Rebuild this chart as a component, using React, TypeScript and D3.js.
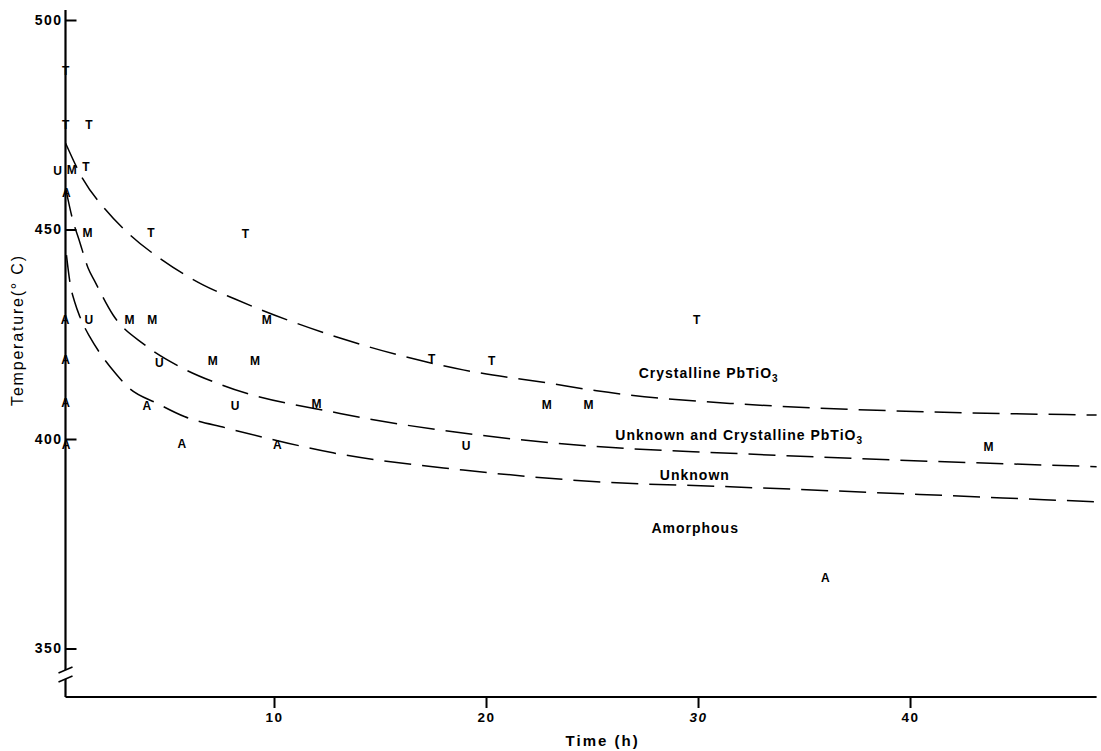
import React, { useEffect, useRef } from "react";
import * as d3 from "d3";

// phase observations, [time (h), temperature (°C)]
const tPoints = [
  [0.17, 488], [0.17, 475], [1.27, 475], [1.13, 465], [4.2, 449.2],
  [8.65, 449], [17.44, 419.1], [20.27, 418.6], [29.94, 428.4],
];
const mPoints = [
  [0.46, 464.2], [1.2, 449.2], [3.18, 428.4], [4.26, 428.4], [9.66, 428.4],
  [7.11, 418.8], [9.1, 418.8], [12.0, 408.5], [22.86, 408.1], [24.83, 408.1],
  [43.7, 398.2],
];
const uPoints = [
  [-0.21, 464.1], [1.27, 428.4], [4.59, 418.2], [8.16, 407.9], [19.06, 398.4],
];
const aPoints = [
  [0.2, 458.7], [0.14, 428.4], [0.17, 418.9], [0.17, 408.6], [0.19, 398.6],
  [4.0, 407.9], [5.65, 398.8], [10.16, 398.6], [36.0, 367],
];

// dashed phase boundaries
const boundaryCrystalline = [
  [0.17, 470.6], [0.99, 462], [2.06, 454.7], [3.21, 448.7], [4.7, 442.8],
  [6.65, 436.8], [8.16, 433.4], [13.11, 424.1], [18.92, 416.5], [22.86, 413.4],
  [25.22, 411.5], [31.51, 408.5], [48.8, 405.7],
];
const boundaryMixed = [
  [0.19, 459.4], [0.47, 453], [0.85, 446.8], [1.23, 440.8], [1.56, 437.5],
  [2.41, 429.6], [3.92, 422.4], [5.57, 417.2], [7.53, 412.9], [13.11, 406.1],
  [19.56, 401], [25.22, 398.2], [31.51, 396.6], [48.8, 393.4],
];
const boundaryAmorphous = [
  [0.21, 443.9], [0.38, 437.2], [0.61, 432.5], [0.85, 429.1], [1.32, 424.3],
  [1.79, 420.5], [2.55, 415.5], [3.11, 412.4], [4.53, 408.4], [5.8, 405.3],
  [7.77, 402.6], [10.66, 399], [12.78, 396.7], [18.92, 392.6], [25.22, 389.8],
  [31.51, 388.6], [48.8, 385],
];

const regionLabels = [
  { text: "Crystalline PbTiO", sub: "3", time: 27.2, temp: 414.6 },
  { text: "Unknown and Crystalline PbTiO", sub: "3", time: 26.1, temp: 399.8 },
  { text: "Unknown", sub: "", time: 28.2, temp: 390.2 },
  { text: "Amorphous", sub: "", time: 27.8, temp: 377.6 },
];

const xTicks = [10, 20, 30, 40];
const yTicks = [350, 400, 450, 500];

export default function App() {
  const svgRef = useRef(null);

  useEffect(() => {
    const width = 1101;
    const height = 751;
    const svg = d3.select(svgRef.current);
    svg.attr("width", width).attr("height", height);
    svg.selectAll("*").remove();

    const font = "'Liberation Sans', Arial, Helvetica, sans-serif";

    const x = d3.scaleLinear().domain([0, 48.8]).range([62, 1096.6]);
    const y = d3.scaleLinear().domain([350, 500]).range([648.5, 20]);
    const axisX = x(0) + 3.5;
    const axisY = 697;

    // x axis
    const gx = svg
      .append("g")
      .attr("transform", `translate(0,${axisY})`)
      .call(d3.axisBottom(x).tickValues(xTicks).tickSize(11).tickPadding(4).tickFormat(d3.format("d")));
    gx.select(".domain").remove();
    gx.selectAll("line").attr("stroke-width", 2);
    gx.selectAll("text")
      .attr("font-family", font)
      .attr("font-weight", "bold")
      .attr("font-size", 13.5)
      .attr("letter-spacing", 1.5)
      .attr("fill", "#000")
      .style("font-style", (d) => (d === 30 ? "italic" : "normal"));
    svg
      .append("line")
      .attr("x1", axisX)
      .attr("x2", x(48.8))
      .attr("y1", axisY)
      .attr("y2", axisY)
      .attr("stroke", "#000")
      .attr("stroke-width", 2);

    // y axis with a break near the bottom
    const gy = svg
      .append("g")
      .attr("transform", `translate(${axisX},0)`)
      .call(d3.axisLeft(y).tickValues(yTicks).tickSize(-11).tickPadding(3));
    gy.select(".domain").remove();
    gy.selectAll("line").attr("stroke-width", 2);
    gy.selectAll("text")
      .attr("font-family", font)
      .attr("font-weight", "bold")
      .attr("font-size", 14)
      .attr("letter-spacing", 1.5)
      .attr("fill", "#000");

    const breakTop = axisY - 27;
    const breakBottom = axisY - 18;
    svg.append("line").attr("x1", axisX).attr("x2", axisX).attr("y1", y(500) - 10).attr("y2", breakTop)
      .attr("stroke", "#000").attr("stroke-width", 2.2);
    svg.append("line").attr("x1", axisX).attr("x2", axisX).attr("y1", breakBottom).attr("y2", axisY)
      .attr("stroke", "#000").attr("stroke-width", 2.2);
    [breakTop, breakBottom].forEach((by) => {
      svg.append("line")
        .attr("x1", axisX - 7).attr("y1", by + 3)
        .attr("x2", axisX + 7).attr("y2", by - 3)
        .attr("stroke", "#000").attr("stroke-width", 1.6);
    });

    // axis titles
    svg.append("text")
      .attr("transform", `translate(23,${y(426)}) rotate(-90)`)
      .attr("text-anchor", "middle")
      .attr("font-family", font)
      .attr("font-size", 16)
      .attr("letter-spacing", 1.8)
      .text("Temperature(° C)");
    svg.append("text")
      .attr("x", x(25.5))
      .attr("y", 746)
      .attr("text-anchor", "middle")
      .attr("font-family", font)
      .attr("font-weight", "bold")
      .attr("font-size", 15)
      .attr("letter-spacing", 2)
      .text("Time (h)");

    // boundaries
    const line = d3.line().x((d) => x(d[0])).y((d) => y(d[1])).curve(d3.curveMonotoneX);
    [boundaryCrystalline, boundaryMixed, boundaryAmorphous].forEach((pts) => {
      svg.append("path")
        .attr("d", line(pts))
        .attr("fill", "none")
        .attr("stroke", "#000")
        .attr("stroke-width", 1.5)
        .attr("stroke-dasharray", "27,11");
    });

    // letter markers
    const phases = [
      { key: "T", pts: tPoints },
      { key: "M", pts: mPoints },
      { key: "U", pts: uPoints },
      { key: "A", pts: aPoints },
    ];
    phases.forEach(({ key, pts }) => {
      svg.append("g")
        .selectAll("text")
        .data(pts)
        .join("text")
        .attr("x", (d) => x(d[0]))
        .attr("y", (d) => y(d[1]))
        .attr("dy", "0.36em")
        .attr("text-anchor", "middle")
        .attr("font-family", font)
        .attr("font-weight", "bold")
        .attr("font-size", 12)
        .text(key);
    });

    // region labels
    regionLabels.forEach((l) => {
      const t = svg.append("text")
        .attr("x", x(l.time))
        .attr("y", y(l.temp))
        .attr("font-family", font)
        .attr("font-weight", "bold")
        .attr("font-size", 14)
        .attr("letter-spacing", 1)
        .text(l.text);
      if (l.sub) {
        t.append("tspan").attr("dy", 4).attr("font-size", 10).text(l.sub);
      }
    });
  }, []);

  return (
    <svg ref={svgRef} style={{ position: "absolute", left: 0, top: 0, background: "#fff" }}></svg>
  );
}
